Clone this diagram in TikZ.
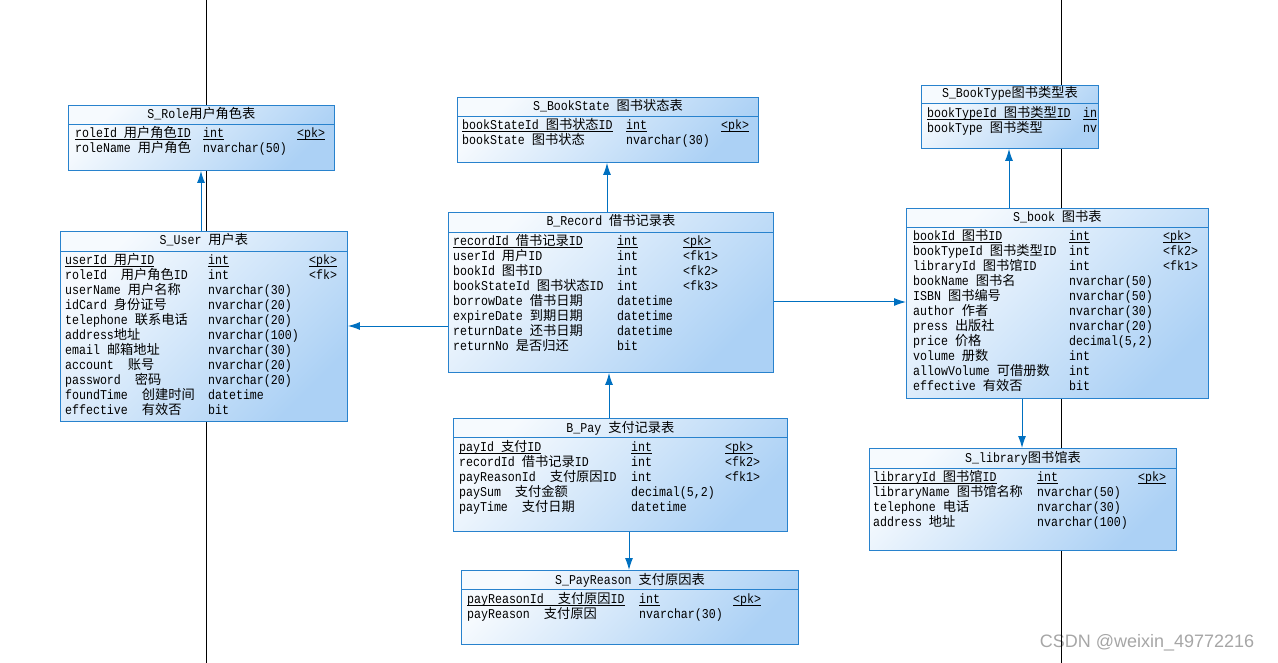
\documentclass[tikz,border=0pt]{standalone}
\usepackage{fontspec}
\setmonofont[FakeStretch=0.86]{Liberation Mono}
\setsansfont{Liberation Sans}
\newfontfamily\cjk[Scale=0.98]{Noto Sans CJK SC}
\usetikzlibrary{arrows.meta,calc}

% Chinese characters switch to the CJK font
\XeTeXinterchartokenstate=1
\newXeTeXintercharclass\zhclass
\count255="4E00
\loop
  \XeTeXcharclass\count255=\zhclass
  \advance\count255 by 1
\ifnum\count255<"A000 \repeat
\XeTeXinterchartoks 0 \zhclass = {\begingroup\cjk}
\XeTeXinterchartoks 4095 \zhclass = {\begingroup\cjk}
\XeTeXinterchartoks \zhclass 0 = {\endgroup}
\XeTeXinterchartoks \zhclass 4095 = {\endgroup}

\newlength\tcola
\newlength\tcolb
\newcommand\tcols[2]{\global\tcola=#1\relax\global\tcolb=#2\relax}
\newcommand\trow[3]{\makebox[\tcola][l]{#1}\makebox[\tcolb][l]{#2}#3}
\newcommand\pkline[1]{\leavevmode\setbox0=\hbox{#1}\rlap{\rule[-2.5pt]{\wd0}{0.8pt}}\box0}
\newcommand\firstline{\rule{0pt}{12pt}}

\definecolor{tblborder}{RGB}{40,130,205}
\definecolor{linkblue}{RGB}{0,112,192}
\definecolor{tbltop}{RGB}{246,250,254}
\definecolor{tblbot}{RGB}{172,209,245}

\tikzset{
  tbl/.style={draw=tblborder, line width=0.9pt, anchor=north west, inner sep=0pt,
    top color=tbltop, bottom color=tblbot, shading angle=45},
  thead/.style={anchor=base, inner sep=0pt, font=\fontsize{13.5}{15}\selectfont\ttfamily},
  trows/.style={anchor=north west, inner sep=0pt, align=left,
    font=\fontsize{13.5}{15}\selectfont\ttfamily},
  tsep/.style={draw=tblborder, line width=0.9pt},
  link/.style={draw=linkblue, line width=1pt, -{Latex[length=12pt,width=8pt]}},
  pageline/.style={black, line width=1pt},
  wmark/.style={inner sep=0pt, text=gray!70, font=\sffamily\fontsize{18}{20}\selectfont}
}

\begin{document}
\begin{tikzpicture}[x=1pt,y=-1pt]
\useasboundingbox (0,0) rectangle (1278,663);
\lineskiplimit=-20pt

\node[wmark] (csdn) at (1147,643) {CSDN @weixin\_49772216};
\draw[pageline] (206,0) -- (206,663);
\draw[pageline] (1061,0) -- (1061,663);

% S_Role
\node[tbl, minimum width=266pt, minimum height=65pt] (role) at (68,105) {};
\node[thead] at ($(role.north)+(0,14)$) {S\_Role用户角色表};
\draw[tsep] ($(role.north west)+(0,19)$) -- ($(role.north east)+(0,19)$);
\tcols{128pt}{94pt}
\node[trows] at ($(role.north west)+(7,20)$) {\firstline\trow{\pkline{roleId 用户角色ID}}{\pkline{int}}{\pkline{<pk>}}\\
\trow{roleName 用户角色}{nvarchar(50)}{}};

% S_User
\node[tbl, minimum width=287pt, minimum height=190pt] (user) at (60,231) {};
\node[thead] at ($(user.north)+(0,14)$) {S\_User 用户表};
\draw[tsep] ($(user.north west)+(0,20)$) -- ($(user.north east)+(0,20)$);
\tcols{143pt}{101pt}
\node[trows] at ($(user.north west)+(5,21)$) {\firstline\trow{\pkline{userId 用户ID}}{\pkline{int}}{\pkline{<pk>}}\\
\trow{roleId\ \ 用户角色ID}{int}{<fk>}\\
\trow{userName 用户名称}{nvarchar(30)}{}\\
\trow{idCard 身份证号}{nvarchar(20)}{}\\
\trow{telephone 联系电话}{nvarchar(20)}{}\\
\trow{address地址}{nvarchar(100)}{}\\
\trow{email 邮箱地址}{nvarchar(30)}{}\\
\trow{account\ \ 账号}{nvarchar(20)}{}\\
\trow{password\ \ 密码}{nvarchar(20)}{}\\
\trow{foundTime\ \ 创建时间}{datetime}{}\\
\trow{effective\ \ 有效否}{bit}{}};

% S_BookState
\node[tbl, minimum width=301pt, minimum height=65pt] (bookstate) at (457,97) {};
\node[thead] at ($(bookstate.north)+(0,14)$) {S\_BookState 图书状态表};
\draw[tsep] ($(bookstate.north west)+(0,19)$) -- ($(bookstate.north east)+(0,19)$);
\tcols{164pt}{95pt}
\node[trows] at ($(bookstate.north west)+(5,20)$) {\firstline\trow{\pkline{bookStateId 图书状态ID}}{\pkline{int}}{\pkline{<pk>}}\\
\trow{bookState 图书状态}{nvarchar(30)}{}};

% B_Record
\node[tbl, minimum width=325pt, minimum height=160pt] (record) at (448,212) {};
\node[thead] at ($(record.north)+(0,14)$) {B\_Record 借书记录表};
\draw[tsep] ($(record.north west)+(0,20)$) -- ($(record.north east)+(0,20)$);
\tcols{164pt}{66pt}
\node[trows] at ($(record.north west)+(5,21)$) {\firstline\trow{\pkline{recordId 借书记录ID}}{\pkline{int}}{\pkline{<pk>}}\\
\trow{userId 用户ID}{int}{<fk1>}\\
\trow{bookId 图书ID}{int}{<fk2>}\\
\trow{bookStateId 图书状态ID}{int}{<fk3>}\\
\trow{borrowDate 借书日期}{datetime}{}\\
\trow{expireDate 到期日期}{datetime}{}\\
\trow{returnDate 还书日期}{datetime}{}\\
\trow{returnNo 是否归还}{bit}{}};

% B_Pay
\node[tbl, minimum width=334pt, minimum height=113pt] (pay) at (453,418) {};
\node[thead] at ($(pay.north)+(0,14)$) {B\_Pay 支付记录表};
\draw[tsep] ($(pay.north west)+(0,19)$) -- ($(pay.north east)+(0,19)$);
\tcols{172pt}{94pt}
\node[trows] at ($(pay.north west)+(6,21)$) {\firstline\trow{\pkline{payId 支付ID}}{\pkline{int}}{\pkline{<pk>}}\\
\trow{recordId 借书记录ID}{int}{<fk2>}\\
\trow{payReasonId\ \ 支付原因ID}{int}{<fk1>}\\
\trow{paySum\ \ 支付金额}{decimal(5,2)}{}\\
\trow{payTime\ \ 支付日期}{datetime}{}};

% S_PayReason
\node[tbl, minimum width=337pt, minimum height=74pt] (payreason) at (461,570) {};
\node[thead] at ($(payreason.north)+(0,14)$) {S\_PayReason 支付原因表};
\draw[tsep] ($(payreason.north west)+(0,19)$) -- ($(payreason.north east)+(0,19)$);
\tcols{172pt}{94pt}
\node[trows] at ($(payreason.north west)+(6,21)$) {\firstline\trow{\pkline{payReasonId\ \ 支付原因ID}}{\pkline{int}}{\pkline{<pk>}}\\
\trow{payReason\ \ 支付原因}{nvarchar(30)}{}};

% S_BookType
\node[tbl, minimum width=177pt, minimum height=63pt] (booktype) at (921,85) {};
\node[thead] at ($(booktype.north)+(0,13)$) {S\_BookType图书类型表};
\draw[tsep] ($(booktype.north west)+(0,18)$) -- ($(booktype.north east)+(0,18)$);
\tcols{156pt}{20pt}
\node[trows] at ($(booktype.north west)+(6,20)$) {\firstline\trow{\pkline{bookTypeId 图书类型ID}}{\pkline{in}}{}\\
\trow{bookType 图书类型}{nv}{}};

% S_book
\node[tbl, minimum width=302pt, minimum height=190pt] (book) at (906,208) {};
\node[thead] at ($(book.north)+(0,14)$) {S\_book 图书表};
\draw[tsep] ($(book.north west)+(0,19)$) -- ($(book.north east)+(0,19)$);
\tcols{156pt}{94pt}
\node[trows] at ($(book.north west)+(7,20)$) {\firstline\trow{\pkline{bookId 图书ID}}{\pkline{int}}{\pkline{<pk>}}\\
\trow{bookTypeId 图书类型ID}{int}{<fk2>}\\
\trow{libraryId 图书馆ID}{int}{<fk1>}\\
\trow{bookName 图书名}{nvarchar(50)}{}\\
\trow{ISBN 图书编号}{nvarchar(50)}{}\\
\trow{author 作者}{nvarchar(30)}{}\\
\trow{press 出版社}{nvarchar(20)}{}\\
\trow{price 价格}{decimal(5,2)}{}\\
\trow{volume 册数}{int}{}\\
\trow{allowVolume 可借册数}{int}{}\\
\trow{effective 有效否}{bit}{}};

% S_library
\node[tbl, minimum width=307pt, minimum height=102pt] (library) at (869,448) {};
\node[thead] at ($(library.north)+(0,14)$) {S\_library图书馆表};
\draw[tsep] ($(library.north west)+(0,20)$) -- ($(library.north east)+(0,20)$);
\tcols{164pt}{101pt}
\node[trows] at ($(library.north west)+(4,21)$) {\firstline\trow{\pkline{libraryId 图书馆ID}}{\pkline{int}}{\pkline{<pk>}}\\
\trow{libraryName 图书馆名称}{nvarchar(50)}{}\\
\trow{telephone 电话}{nvarchar(30)}{}\\
\trow{address 地址}{nvarchar(100)}{}};

% references
\draw[link] ($(user.north west)+(141,0)$) -- ($(role.south west)+(133,0)$);
\draw[link] ($(record.north west)+(0,114)$) -- ($(user.north east)+(0,95)$);
\draw[link] ($(record.north west)+(159,0)$) -- ($(bookstate.south west)+(150,0)$);
\draw[link] ($(record.north east)+(0,90)$) -- ($(book.north west)+(0,94)$);
\draw[link] ($(pay.north west)+(156,0)$) -- ($(record.south west)+(161,0)$);
\draw[link] ($(pay.south west)+(176,0)$) -- ($(payreason.north west)+(168,0)$);
\draw[link] ($(book.north west)+(103,0)$) -- ($(booktype.south west)+(88,0)$);
\draw[link] ($(book.south west)+(116,0)$) -- ($(library.north west)+(153,0)$);
\end{tikzpicture}
\end{document}
